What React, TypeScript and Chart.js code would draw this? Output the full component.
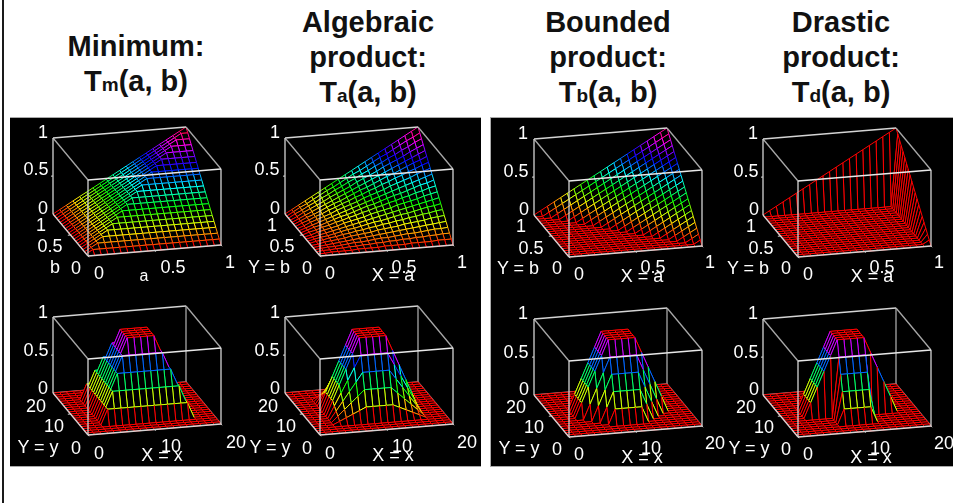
import React, { useEffect, useRef } from "react";
import { Chart, registerables } from "chart.js";

Chart.register(...registerables);

// Surface heights in percent, read row by row (outer index = Y step, inner index = X step, 21 x 21).
const Z0 = [0,0,0,0,0,0,0,0,0,0,0,0,0,0,0,0,0,0,0,0,0];

const topMinimum = [
  Z0,
  [0,5,5,5,5,5,5,5,5,5,5,5,5,5,5,5,5,5,5,5,5],
  [0,5,10,10,10,10,10,10,10,10,10,10,10,10,10,10,10,10,10,10,10],
  [0,5,10,15,15,15,15,15,15,15,15,15,15,15,15,15,15,15,15,15,15],
  [0,5,10,15,20,20,20,20,20,20,20,20,20,20,20,20,20,20,20,20,20],
  [0,5,10,15,20,25,25,25,25,25,25,25,25,25,25,25,25,25,25,25,25],
  [0,5,10,15,20,25,30,30,30,30,30,30,30,30,30,30,30,30,30,30,30],
  [0,5,10,15,20,25,30,35,35,35,35,35,35,35,35,35,35,35,35,35,35],
  [0,5,10,15,20,25,30,35,40,40,40,40,40,40,40,40,40,40,40,40,40],
  [0,5,10,15,20,25,30,35,40,45,45,45,45,45,45,45,45,45,45,45,45],
  [0,5,10,15,20,25,30,35,40,45,50,50,50,50,50,50,50,50,50,50,50],
  [0,5,10,15,20,25,30,35,40,45,50,55,55,55,55,55,55,55,55,55,55],
  [0,5,10,15,20,25,30,35,40,45,50,55,60,60,60,60,60,60,60,60,60],
  [0,5,10,15,20,25,30,35,40,45,50,55,60,65,65,65,65,65,65,65,65],
  [0,5,10,15,20,25,30,35,40,45,50,55,60,65,70,70,70,70,70,70,70],
  [0,5,10,15,20,25,30,35,40,45,50,55,60,65,70,75,75,75,75,75,75],
  [0,5,10,15,20,25,30,35,40,45,50,55,60,65,70,75,80,80,80,80,80],
  [0,5,10,15,20,25,30,35,40,45,50,55,60,65,70,75,80,85,85,85,85],
  [0,5,10,15,20,25,30,35,40,45,50,55,60,65,70,75,80,85,90,90,90],
  [0,5,10,15,20,25,30,35,40,45,50,55,60,65,70,75,80,85,90,95,95],
  [0,5,10,15,20,25,30,35,40,45,50,55,60,65,70,75,80,85,90,95,100],
];

const topAlgebraic = [
  Z0,
  [0,0,1,1,1,1,2,2,2,2,3,3,3,3,4,4,4,4,5,5,5],
  [0,1,1,2,2,3,3,4,4,5,5,6,6,7,7,8,8,9,9,10,10],
  [0,1,2,2,3,4,5,5,6,7,8,8,9,10,11,11,12,13,14,14,15],
  [0,1,2,3,4,5,6,7,8,9,10,11,12,13,14,15,16,17,18,19,20],
  [0,1,3,4,5,6,8,9,10,11,13,14,15,16,18,19,20,21,23,24,25],
  [0,2,3,5,6,8,9,11,12,14,15,17,18,20,21,23,24,26,27,29,30],
  [0,2,4,5,7,9,11,12,14,16,18,19,21,23,25,26,28,30,32,33,35],
  [0,2,4,6,8,10,12,14,16,18,20,22,24,26,28,30,32,34,36,38,40],
  [0,2,5,7,9,11,14,16,18,20,23,25,27,29,32,34,36,38,41,43,45],
  [0,3,5,8,10,13,15,18,20,23,25,28,30,33,35,38,40,43,45,48,50],
  [0,3,6,8,11,14,17,19,22,25,28,30,33,36,39,41,44,47,50,52,55],
  [0,3,6,9,12,15,18,21,24,27,30,33,36,39,42,45,48,51,54,57,60],
  [0,3,7,10,13,16,20,23,26,29,33,36,39,42,46,49,52,55,59,62,65],
  [0,4,7,11,14,18,21,25,28,32,35,39,42,46,49,53,56,60,63,67,70],
  [0,4,8,11,15,19,23,26,30,34,38,41,45,49,53,56,60,64,68,71,75],
  [0,4,8,12,16,20,24,28,32,36,40,44,48,52,56,60,64,68,72,76,80],
  [0,4,9,13,17,21,26,30,34,38,43,47,51,55,60,64,68,72,77,81,85],
  [0,5,9,14,18,23,27,32,36,41,45,50,54,59,63,68,72,77,81,86,90],
  [0,5,10,14,19,24,29,33,38,43,48,52,57,62,67,71,76,81,86,90,95],
  [0,5,10,15,20,25,30,35,40,45,50,55,60,65,70,75,80,85,90,95,100],
];

const topBounded = [
  Z0,
  [0,0,0,0,0,0,0,0,0,0,0,0,0,0,0,0,0,0,0,0,5],
  [0,0,0,0,0,0,0,0,0,0,0,0,0,0,0,0,0,0,0,5,10],
  [0,0,0,0,0,0,0,0,0,0,0,0,0,0,0,0,0,0,5,10,15],
  [0,0,0,0,0,0,0,0,0,0,0,0,0,0,0,0,0,5,10,15,20],
  [0,0,0,0,0,0,0,0,0,0,0,0,0,0,0,0,5,10,15,20,25],
  [0,0,0,0,0,0,0,0,0,0,0,0,0,0,0,5,10,15,20,25,30],
  [0,0,0,0,0,0,0,0,0,0,0,0,0,0,5,10,15,20,25,30,35],
  [0,0,0,0,0,0,0,0,0,0,0,0,0,5,10,15,20,25,30,35,40],
  [0,0,0,0,0,0,0,0,0,0,0,0,5,10,15,20,25,30,35,40,45],
  [0,0,0,0,0,0,0,0,0,0,0,5,10,15,20,25,30,35,40,45,50],
  [0,0,0,0,0,0,0,0,0,0,5,10,15,20,25,30,35,40,45,50,55],
  [0,0,0,0,0,0,0,0,0,5,10,15,20,25,30,35,40,45,50,55,60],
  [0,0,0,0,0,0,0,0,5,10,15,20,25,30,35,40,45,50,55,60,65],
  [0,0,0,0,0,0,0,5,10,15,20,25,30,35,40,45,50,55,60,65,70],
  [0,0,0,0,0,0,5,10,15,20,25,30,35,40,45,50,55,60,65,70,75],
  [0,0,0,0,0,5,10,15,20,25,30,35,40,45,50,55,60,65,70,75,80],
  [0,0,0,0,5,10,15,20,25,30,35,40,45,50,55,60,65,70,75,80,85],
  [0,0,0,5,10,15,20,25,30,35,40,45,50,55,60,65,70,75,80,85,90],
  [0,0,5,10,15,20,25,30,35,40,45,50,55,60,65,70,75,80,85,90,95],
  [0,5,10,15,20,25,30,35,40,45,50,55,60,65,70,75,80,85,90,95,100],
];

const topDrastic = [
  Z0,
  [0,0,0,0,0,0,0,0,0,0,0,0,0,0,0,0,0,0,0,0,5],
  [0,0,0,0,0,0,0,0,0,0,0,0,0,0,0,0,0,0,0,0,10],
  [0,0,0,0,0,0,0,0,0,0,0,0,0,0,0,0,0,0,0,0,15],
  [0,0,0,0,0,0,0,0,0,0,0,0,0,0,0,0,0,0,0,0,20],
  [0,0,0,0,0,0,0,0,0,0,0,0,0,0,0,0,0,0,0,0,25],
  [0,0,0,0,0,0,0,0,0,0,0,0,0,0,0,0,0,0,0,0,30],
  [0,0,0,0,0,0,0,0,0,0,0,0,0,0,0,0,0,0,0,0,35],
  [0,0,0,0,0,0,0,0,0,0,0,0,0,0,0,0,0,0,0,0,40],
  [0,0,0,0,0,0,0,0,0,0,0,0,0,0,0,0,0,0,0,0,45],
  [0,0,0,0,0,0,0,0,0,0,0,0,0,0,0,0,0,0,0,0,50],
  [0,0,0,0,0,0,0,0,0,0,0,0,0,0,0,0,0,0,0,0,55],
  [0,0,0,0,0,0,0,0,0,0,0,0,0,0,0,0,0,0,0,0,60],
  [0,0,0,0,0,0,0,0,0,0,0,0,0,0,0,0,0,0,0,0,65],
  [0,0,0,0,0,0,0,0,0,0,0,0,0,0,0,0,0,0,0,0,70],
  [0,0,0,0,0,0,0,0,0,0,0,0,0,0,0,0,0,0,0,0,75],
  [0,0,0,0,0,0,0,0,0,0,0,0,0,0,0,0,0,0,0,0,80],
  [0,0,0,0,0,0,0,0,0,0,0,0,0,0,0,0,0,0,0,0,85],
  [0,0,0,0,0,0,0,0,0,0,0,0,0,0,0,0,0,0,0,0,90],
  [0,0,0,0,0,0,0,0,0,0,0,0,0,0,0,0,0,0,0,0,95],
  [0,5,10,15,20,25,30,35,40,45,50,55,60,65,70,75,80,85,90,95,100],
];

const TRAP = [0,0,0,0,20,40,60,80,100,100,100,100,100,80,60,40,20,0,0,0,0];

const m4 = [0,0,0,0,20,20,20,20,20,20,20,20,20,20,20,20,20,0,0,0,0];
const m5 = [0,0,0,0,20,40,40,40,40,40,40,40,40,40,40,40,20,0,0,0,0];
const m6 = [0,0,0,0,20,40,60,60,60,60,60,60,60,60,60,40,20,0,0,0,0];
const m7 = [0,0,0,0,20,40,60,80,80,80,80,80,80,80,60,40,20,0,0,0,0];
const lowMinimum = [Z0,Z0,Z0,Z0,m4,m5,m6,m7,TRAP,TRAP,TRAP,TRAP,TRAP,m7,m6,m5,m4,Z0,Z0,Z0,Z0];

const a4 = [0,0,0,0,4,8,12,16,20,20,20,20,20,16,12,8,4,0,0,0,0];
const a5 = [0,0,0,0,8,16,24,32,40,40,40,40,40,32,24,16,8,0,0,0,0];
const a6 = [0,0,0,0,12,24,36,48,60,60,60,60,60,48,36,24,12,0,0,0,0];
const a7 = [0,0,0,0,16,32,48,64,80,80,80,80,80,64,48,32,16,0,0,0,0];
const lowAlgebraic = [Z0,Z0,Z0,Z0,a4,a5,a6,a7,TRAP,TRAP,TRAP,TRAP,TRAP,a7,a6,a5,a4,Z0,Z0,Z0,Z0];

const b4 = [0,0,0,0,0,0,0,0,20,20,20,20,20,0,0,0,0,0,0,0,0];
const b5 = [0,0,0,0,0,0,0,20,40,40,40,40,40,20,0,0,0,0,0,0,0];
const b6 = [0,0,0,0,0,0,20,40,60,60,60,60,60,40,20,0,0,0,0,0,0];
const b7 = [0,0,0,0,0,20,40,60,80,80,80,80,80,60,40,20,0,0,0,0,0];
const lowBounded = [Z0,Z0,Z0,Z0,b4,b5,b6,b7,TRAP,TRAP,TRAP,TRAP,TRAP,b7,b6,b5,b4,Z0,Z0,Z0,Z0];

const d5 = [0,0,0,0,0,0,0,0,40,40,40,40,40,0,0,0,0,0,0,0,0];
const d6 = [0,0,0,0,0,0,0,0,60,60,60,60,60,0,0,0,0,0,0,0,0];
const d7 = [0,0,0,0,0,0,0,0,80,80,80,80,80,0,0,0,0,0,0,0,0];
const lowDrastic = [Z0,Z0,Z0,Z0,b4,d5,d6,d7,TRAP,TRAP,TRAP,TRAP,TRAP,d7,d6,d5,b4,Z0,Z0,Z0,Z0];

const surfaces = [topMinimum, topAlgebraic, topBounded, topDrastic, lowMinimum, lowAlgebraic, lowBounded, lowDrastic];

const titleNames = [["Minimum:"], ["Algebraic", "product:"], ["Bounded", "product:"], ["Drastic", "product:"]];
const titleSubs = ["m", "a", "b", "d"];

const topZTicks = ["1", "0.5", "0"];
const topYTicks = ["1", "0.5", "0"];
const topXTicks = ["0", "0.5", "1"];
const lowYTicks = ["20", "10", "0"];
const lowXTicks = ["0", "10", "20"];
const topAxisY = ["b", "Y = b", "Y = b", "Y = b"];
const topAxisX = ["a", "X = a", "X = a", "X = a"];
const lowAxisY = "Y = y";
const lowAxisX = "X = x";

// Page layout: front floor corner of every 3D box, and label centres.
const CORNERS = [[88.3,256],[320,256],[569.3,256.7],[798.3,256.7],[88.3,435],[319.5,435],[569.3,437.3],[798.3,437.3]];
const EX = [133, -11], EY = [-35, -42], EZ = -76;
const CW = 195, CH = 155, PADL = 50, PADT = 143;

const TOP_POS = [
  { z:[[43,132],[36,169],[43,208]], y:[[41,225],[50,246],[76,268]], x:[[99,273],[173,267],[230,262]], ya:[55,267], xa:[144,276] },
  { z:[[275,132],[267,169],[275,208]], y:[[272,225],[282,246],[307,268]], x:[[330,273],[404,267],[462,262]], ya:[269,267], xa:[393,275] },
  { z:[[523,133],[516,171],[524,209]], y:[[521,226],[531,248],[557,268]], x:[[579,274],[653,267],[710,262]], ya:[518,268], xa:[642,276] },
  { z:[[753,133],[746,171],[754,209]], y:[[751,226],[761,248],[786,268]], x:[[808,274],[882,267],[939,262]], ya:[748,268], xa:[872,276] },
];
const LOW_POS = [
  { z:[[43,312],[36,350],[43,388]], y:[[36,406],[54,426],[76,448]], x:[[99,453],[171,446],[236,442]], ya:[38,447], xa:[162,455] },
  { z:[[275,312],[267,350],[275,388]], y:[[268,406],[286,426],[307,448]], x:[[330,453],[402,446],[467,442]], ya:[270,447], xa:[393,455] },
  { z:[[523,313],[516,352],[524,389]], y:[[516,407],[534,427],[557,449]], x:[[579,454],[651,448],[715,443]], ya:[519,448], xa:[642,457] },
  { z:[[753,313],[746,352],[754,389]], y:[[746,407],[764,427],[786,449]], x:[[808,454],[880,448],[944,443]], ya:[749,448], xa:[871,457] },
];
const TITLE_CX = [136, 368, 608, 841];

const project = (x: number, y: number, z: number) => ({
  x: PADL + x * EX[0] + y * EY[0],
  y: PADT + x * EX[1] + y * EY[1] + z * EZ,
});

const hsv = (pct: number) => `hsl(${pct * 3.6},100%,50%)`;

function lineSet(pts: number[][], color: string, width: number) {
  return {
    data: pts.map((p) => project(p[0], p[1], p[2])),
    borderColor: color,
    borderWidth: width,
    backgroundColor: "transparent",
    fill: false,
    showLine: true,
    pointRadius: 0,
    clip: false,
  } as any;
}

function buildDatasets(rows: number[][]) {
  const n = rows.length - 1;
  const cells: any[] = [];
  for (let j = 0; j < n; j++) {
    for (let i = 0; i < n; i++) {
      const pts = [[i, j], [i + 1, j], [i + 1, j + 1], [i, j + 1], [i, j]];
      const cols = [
        hsv(rows[j][i]),
        hsv(i + 1 === n ? rows[j][i] : rows[j][i + 1]),
        hsv(j + 1 === n ? rows[j][i] : rows[j + 1][i]),
        hsv(rows[j][i]),
      ];
      const data = pts.map(([a, b]) => project(a / n, b / n, rows[b][a] / 100));
      // Outline first so it is painted after its own black face (Chart.js paints the last dataset first).
      cells.push({
        data,
        borderColor: cols[0],
        borderWidth: 1,
        backgroundColor: "transparent",
        fill: false,
        showLine: true,
        pointRadius: 0,
        clip: false,
        segment: { borderColor: (c: any) => cols[c.p0DataIndex] },
      });
      cells.push({
        data,
        borderColor: "#000",
        borderWidth: 0,
        backgroundColor: "#000",
        fill: "shape",
        showLine: true,
        pointRadius: 0,
        clip: false,
      });
    }
  }
  const frontCol = "#d4d4d4";
  const backCol = "#a8a8a8";
  const front = [
    lineSet([[0,0,1],[1,0,1]], "#e8e8e8", 1.3),
    lineSet([[0,0,0],[0,0,1]], frontCol, 1.3),
    lineSet([[1,0,0],[1,0,1]], frontCol, 1.3),
    lineSet([[0,0,0],[1,0,0]], frontCol, 1.3),
    lineSet([[0,0,0],[0,1,0]], frontCol, 1.3),
    lineSet([[0,1,0],[0,1,1]], frontCol, 1.3),
    lineSet([[0,0,1],[0,1,1]], backCol, 1.3),
    lineSet([[1,0,1],[1,1,1]], backCol, 1.3),
    lineSet([[0,1,1],[1,1,1]], frontCol, 1.3),
    lineSet([[.5,0,0],[.5,-.03,0]], frontCol, 1),
    lineSet([[1,0,0],[1,-.03,0]], frontCol, 1),
    lineSet([[0,0,0],[0,-.03,0]], frontCol, 1),
    lineSet([[0,.5,0],[-.02,.5,0]], frontCol, 1),
    lineSet([[0,1,.5],[-.015,1,.5]], frontCol, 1),
  ];
  const back = [
    lineSet([[1,1,0],[1,1,1]], backCol, 1.3),
    lineSet([[0,1,0],[1,1,0]], backCol, 1.3),
    lineSet([[1,0,0],[1,1,0]], backCol, 1.3),
  ];
  return [...front, ...cells, ...back];
}

const textBase: React.CSSProperties = {
  position: "absolute",
  transform: "translate(-50%,-50%)",
  color: "#fff",
  fontFamily: "'Liberation Sans', Arial, sans-serif",
  fontSize: 18,
  whiteSpace: "nowrap",
  lineHeight: 1,
};

function Tick({ p, t, size }: { p: number[]; t: string; size?: number }) {
  return <span style={{ ...textBase, left: p[0], top: p[1], fontSize: size || 18 }}>{t}</span>;
}

export default function App() {
  const refs = useRef<(HTMLCanvasElement | null)[]>([]);

  useEffect(() => {
    document.body.style.margin = "0";
    document.body.style.background = "#fff";
    const charts = surfaces.map((rows, k) =>
      new Chart(refs.current[k] as HTMLCanvasElement, {
        type: "scatter",
        data: { datasets: buildDatasets(rows) },
        options: {
          animation: false,
          responsive: false,
          events: [],
          layout: { padding: 0 },
          plugins: { legend: { display: false }, tooltip: { enabled: false }, title: { display: false } },
          scales: {
            x: { type: "linear", display: false, min: 0, max: CW },
            y: { type: "linear", display: false, min: 0, max: CH, reverse: true },
          },
        },
      } as any)
    );
    return () => charts.forEach((c) => c.destroy());
  }, []);

  return (
    <div style={{ position: "fixed", left: 0, top: 0, width: 953, height: 503, overflow: "hidden", background: "#fff" }}>
      <div style={{ position: "absolute", left: 2, top: 0, width: 2, height: 503, background: "#1a1a1a" }} />
      <div style={{ position: "absolute", left: 10, top: 117, width: 471, height: 350, background: "#000", borderTop: "1px solid #aaa", borderBottom: "1px solid #aaa", boxSizing: "border-box" }} />
      <div style={{ position: "absolute", left: 490, top: 117, width: 463, height: 350, background: "#000", borderTop: "1px solid #aaa", borderBottom: "1px solid #aaa", borderLeft: "1px solid #aaa", boxSizing: "border-box" }} />

      {titleNames.map((lines, k) => {
        const base = lines.length === 1 ? 55.5 : 31.5;
        const rows = lines.length + 1;
        return Array.from({ length: rows }).map((_, r) => (
          <div
            key={`${k}-${r}`}
            style={{
              position: "absolute",
              left: TITLE_CX[k] - 110,
              width: 220,
              top: base + r * 35 - 26,
              height: 32,
              lineHeight: "32px",
              textAlign: "center",
              fontFamily: "'Liberation Sans', Arial, sans-serif",
              fontWeight: 700,
              fontSize: 29,
              color: "#111",
              whiteSpace: "nowrap",
            }}
          >
            {r < lines.length ? (
              lines[r]
            ) : (
              <>
                T<span style={{ fontSize: 19 }}>{titleSubs[k]}</span>(a, b)
              </>
            )}
          </div>
        ));
      })}

      {surfaces.map((_, k) => (
        <div key={k} style={{ position: "absolute", left: CORNERS[k][0] - PADL, top: CORNERS[k][1] - PADT, width: CW, height: CH }}>
          <canvas ref={(el) => { refs.current[k] = el; }} width={CW} height={CH} />
        </div>
      ))}

      {TOP_POS.map((p, k) => (
        <React.Fragment key={k}>
          {topZTicks.map((t, i) => <Tick key={`z${i}`} p={p.z[i]} t={t} />)}
          {topYTicks.map((t, i) => <Tick key={`y${i}`} p={p.y[i]} t={t} />)}
          {topXTicks.map((t, i) => <Tick key={`x${i}`} p={p.x[i]} t={t} />)}
          <Tick p={p.ya} t={topAxisY[k]} />
          <Tick p={p.xa} t={topAxisX[k]} size={k === 0 ? 16 : 18} />
        </React.Fragment>
      ))}
      {LOW_POS.map((p, k) => (
        <React.Fragment key={k}>
          {topZTicks.map((t, i) => <Tick key={`z${i}`} p={p.z[i]} t={t} />)}
          {lowYTicks.map((t, i) => <Tick key={`y${i}`} p={p.y[i]} t={t} />)}
          {lowXTicks.map((t, i) => <Tick key={`x${i}`} p={p.x[i]} t={t} />)}
          <Tick p={p.ya} t={lowAxisY} />
          <Tick p={p.xa} t={lowAxisX} />
        </React.Fragment>
      ))}
    </div>
  );
}
